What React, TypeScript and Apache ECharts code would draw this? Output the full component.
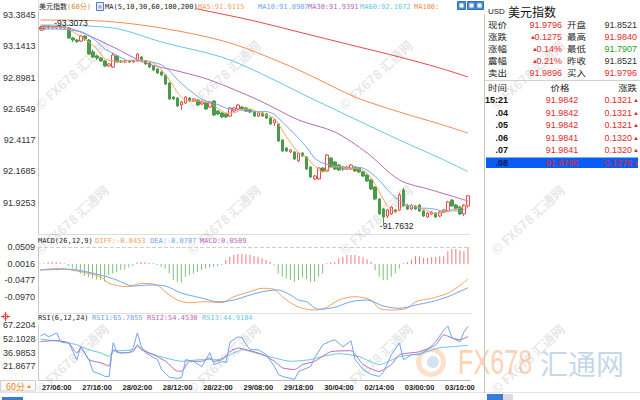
import React, { useEffect, useRef } from "react";
import * as echarts from "echarts";

// ---------- DATA ----------
const opens = [93.291, 93.276, 93.299, 93.283, 93.283, 93.299, 93.283, 93.283, 93.206, 93.190,
  93.182, 93.221, 93.190, 93.097, 93.066, 93.050, 93.027, 92.988, 92.980, 93.066,
  93.027, 93.019, 93.027, 93.019, 93.027, 93.058, 93.027, 93.011, 92.988, 92.965,
  92.941, 92.918, 92.856, 92.747, 92.739, 92.685, 92.700, 92.739, 92.716, 92.724,
  92.693, 92.700, 92.669, 92.716, 92.638, 92.623, 92.615, 92.599, 92.638, 92.654,
  92.669, 92.662, 92.646, 92.630, 92.599, 92.623, 92.615, 92.584, 92.545, 92.537,
  92.413, 92.351, 92.320, 92.320, 92.250, 92.312, 92.281, 92.203, 92.110, 92.110,
  92.195, 92.172, 92.273, 92.242, 92.218, 92.203, 92.187, 92.187, 92.203, 92.195,
  92.164, 92.141, 92.102, 92.047, 91.954, 91.876, 91.822, 91.838, 91.869, 91.869,
  92.024, 91.907, 91.876, 91.900, 91.907, 91.861, 91.814, 91.838, 91.845, 91.822,
  91.853, 91.861, 91.946, 91.907, 91.892, 91.838, 91.900];
const closes = [93.276, 93.299, 93.283, 93.291, 93.299, 93.283, 93.299, 93.206, 93.190, 93.179,
  93.221, 93.198, 93.081, 93.058, 93.050, 93.027, 92.988, 93.004, 93.074, 93.019,
  93.019, 93.027, 93.019, 93.027, 93.081, 93.027, 93.004, 92.980, 92.957, 92.934,
  92.918, 92.848, 92.732, 92.732, 92.677, 92.708, 92.747, 92.716, 92.732, 92.685,
  92.708, 92.654, 92.708, 92.607, 92.615, 92.592, 92.592, 92.662, 92.662, 92.685,
  92.654, 92.638, 92.630, 92.599, 92.623, 92.599, 92.584, 92.537, 92.568, 92.405,
  92.327, 92.327, 92.335, 92.265, 92.312, 92.288, 92.187, 92.125, 92.133, 92.195,
  92.172, 92.296, 92.203, 92.187, 92.180, 92.187, 92.203, 92.218, 92.172, 92.164,
  92.133, 92.094, 92.032, 91.954, 91.838, 91.814, 91.869, 91.892, 91.853, 91.985,
  91.900, 91.876, 91.907, 91.876, 91.861, 91.822, 91.845, 91.853, 91.814, 91.853,
  91.869, 91.931, 91.900, 91.876, 91.838, 91.907, 91.9796];
const lows = [93.268, 93.268, 93.276, 93.276, 93.276, 93.276, 93.276, 93.198, 93.175, 93.167,
  93.175, 93.182, 93.074, 93.050, 93.035, 93.019, 92.980, 92.980, 92.973, 93.011,
  93.011, 93.011, 93.011, 93.015, 93.019, 93.019, 92.996, 92.973, 92.949, 92.926,
  92.910, 92.840, 92.724, 92.724, 92.669, 92.646, 92.693, 92.708, 92.708, 92.677,
  92.685, 92.646, 92.662, 92.599, 92.607, 92.584, 92.584, 92.592, 92.630, 92.646,
  92.646, 92.630, 92.623, 92.592, 92.592, 92.592, 92.576, 92.529, 92.522, 92.397,
  92.320, 92.320, 92.312, 92.257, 92.242, 92.281, 92.180, 92.117, 92.102, 92.102,
  92.164, 92.164, 92.195, 92.180, 92.172, 92.172, 92.180, 92.180, 92.164, 92.156,
  92.125, 92.086, 92.024, 91.946, 91.830, 91.7632, 91.806, 91.830, 91.845, 91.861,
  91.892, 91.869, 91.869, 91.869, 91.853, 91.814, 91.806, 91.830, 91.806, 91.814,
  91.845, 91.853, 91.892, 91.869, 91.830, 91.822, 91.892];
const highs = [93.299, 93.303, 93.303, 93.299, 93.3073, 93.303, 93.303, 93.291, 93.214, 93.198,
  93.229, 93.229, 93.198, 93.112, 93.074, 93.058, 93.035, 93.011, 93.089, 93.074,
  93.035, 93.035, 93.035, 93.035, 93.089, 93.066, 93.035, 93.019, 92.996, 92.973,
  92.949, 92.926, 92.864, 92.755, 92.747, 92.716, 92.755, 92.747, 92.739, 92.732,
  92.716, 92.708, 92.716, 92.724, 92.646, 92.630, 92.623, 92.669, 92.669, 92.693,
  92.677, 92.669, 92.654, 92.638, 92.630, 92.630, 92.623, 92.592, 92.576, 92.545,
  92.421, 92.358, 92.343, 92.327, 92.320, 92.320, 92.288, 92.211, 92.141, 92.203,
  92.203, 92.304, 92.281, 92.250, 92.226, 92.211, 92.211, 92.226, 92.211, 92.203,
  92.172, 92.148, 92.110, 92.055, 91.962, 91.884, 91.876, 91.900, 91.876, 92.001,
  92.040, 91.915, 91.915, 91.907, 91.915, 91.869, 91.853, 91.861, 91.853, 91.861,
  91.876, 91.939, 91.954, 91.915, 91.900, 91.915, 91.984];

const ma5 = [[0,93.2873],[2,93.2873],[4,93.2881],[6,93.2912],[8,93.2539],[10,93.2189],[12,93.1738],[14,93.1217],[16,93.0409],[18,93.0284],[20,93.0207],[22,93.0316],[24,93.0347],[26,93.0316],[28,93.0098],[30,92.9585],[32,92.8776],[34,92.7812],[36,92.7190],[38,92.7159],[40,92.7175],[42,92.6973],[44,92.6584],[46,92.6226],[48,92.6242],[50,92.6506],[52,92.6537],[54,92.6289],[56,92.6071],[58,92.5822],[60,92.4843],[62,92.3925],[64,92.3132],[66,92.2775],[68,92.2091],[70,92.1624],[72,92.1997],[74,92.2075],[76,92.1920],[78,92.1920],[80,92.1780],[82,92.1189],[84,92.0101],[86,91.9012],[88,91.8530],[90,91.8997],[92,91.9043],[94,91.8841],[96,91.8623],[98,91.8390],[100,91.8468],[102,91.8732],[104,91.8826],[106,91.9115]];
const ma10 = [[0,93.2757],[2,93.2757],[4,93.2757],[6,93.2718],[8,93.2640],[10,93.2551],[12,93.2247],[14,93.1773],[16,93.1190],[18,93.0879],[20,93.0518],[22,93.0284],[24,93.0284],[26,93.0300],[28,93.0160],[30,92.9973],[32,92.9507],[34,92.8807],[36,92.8232],[38,92.7742],[40,92.7284],[42,92.7066],[44,92.6879],[46,92.6607],[48,92.6483],[50,92.6429],[52,92.6335],[54,92.6335],[56,92.6335],[58,92.6118],[60,92.5511],[62,92.4905],[64,92.4260],[66,92.3552],[68,92.2705],[70,92.2339],[72,92.2176],[74,92.1966],[76,92.1881],[78,92.2013],[80,92.1943],[82,92.1570],[84,92.0995],[86,92.0287],[88,91.9642],[90,91.9230],[92,91.8888],[94,91.8833],[96,91.8818],[98,91.8740],[100,91.8577],[102,91.8623],[104,91.8600],[106,91.8907]];
const ma30 = [[0,93.2990],[7,93.2834],[18,93.1357],[26,93.0114],[35,92.9414],[42,92.8792],[54,92.7237],[64,92.5682],[73,92.4749],[81,92.3117],[89,92.1018],[97,92.0240],[106,91.9391]];
const ma60 = [[0,93.3068],[18,93.2834],[30,93.1746],[47,93.0347],[68,92.7237],[89,92.4127],[99,92.2728],[106,92.1672]];
const ma100 = [[0,93.3456],[15,93.3378],[30,93.2834],[47,93.1668],[64,92.9569],[78,92.7470],[89,92.6304],[99,92.5371],[106,92.4671]];
const ma200 = [[25,93.545],[31,93.4933],[39,93.4311],[52,93.3456],[68,93.2212],[79,93.1357],[89,93.0580],[99,92.9725],[106,92.9025]];

const macdHist = [0.001, 0.002, 0.005, 0.007, 0.006, 0.004, 0.002,
  -0.006, -0.013, -0.018, -0.028, -0.035, -0.038, -0.043, -0.046, -0.048, -0.053, -0.033, -0.028, -0.023, -0.018, -0.016, -0.010,
  -0.006,
  0.005, 0.007, 0.006, 0.004, 0.002,
  -0.003,
  -0.008, -0.013, -0.028, -0.048, -0.053, -0.056, -0.038, -0.033, -0.028, -0.023, -0.018, -0.013, -0.010, -0.008, -0.006, -0.003,
  0.012, 0.022, 0.027, 0.030, 0.030, 0.029, 0.027, 0.024, 0.022, 0.017, 0.012, 0.007,
  -0.004,
  -0.028, -0.038, -0.043, -0.048, -0.053, -0.048, -0.040, -0.045, -0.053, -0.053, -0.038, -0.028,
  0.002, 0.005, 0.007, 0.017, 0.022, 0.027, 0.027, 0.027, 0.024, 0.020, 0.014, 0.007,
  -0.018, -0.038, -0.048, -0.048, -0.038, -0.028, -0.013,
  0.002, 0.005, 0.013, 0.023, 0.023, 0.018, 0.018, 0.021, 0.021, 0.023, 0.023, 0.038, 0.045, 0.045, 0.041, 0.038, 0.0509];
const diff = [[0,-0.0178],[5,-0.0127],[7,-0.0157],[15,-0.0378],[17,-0.0576],[22,-0.0677],[25,-0.0576],[29,-0.0626],[31,-0.0827],[34,-0.1075],[37,-0.1155],[41,-0.1125],[45,-0.1155],[48,-0.0976],[52,-0.0827],[55,-0.0725],[58,-0.0755],[60,-0.0976],[63,-0.1224],[65,-0.1323],[68,-0.1373],[71,-0.1293],[74,-0.1075],[78,-0.0976],[82,-0.1075],[84,-0.1323],[87,-0.1373],[91,-0.1323],[93,-0.1125],[97,-0.1024],[101,-0.0874],[103,-0.0725],[106,-0.0453]];
const dea = [[0,-0.0178],[7,-0.0157],[15,-0.0328],[19,-0.0477],[23,-0.0656],[27,-0.0626],[31,-0.0656],[35,-0.0866],[40,-0.1015],[44,-0.1125],[48,-0.1075],[52,-0.0925],[56,-0.0806],[59,-0.0776],[62,-0.0925],[64,-0.1075],[66,-0.1125],[69,-0.1353],[73,-0.1293],[77,-0.1125],[81,-0.1075],[85,-0.1254],[89,-0.1323],[93,-0.1224],[97,-0.1125],[101,-0.0976],[106,-0.0707]];

const rsi1 = [[0,55.26],[1,57.43],[2,54.17],[4,58.52],[5,48.73],[6,47.64],[7,47.64],[9,29.15],[10,43.29],[12,29.15],[13,16.10],[15,12.84],[16,10.66],[17,10.66],[18,47.64],[19,36.77],[22,36.77],[23,42.21],[24,58.52],[25,43.29],[26,36.77],[29,29.15],[30,18.28],[32,9.58],[34,8.49],[35,9.58],[36,29.15],[38,26.98],[40,21.54],[42,36.77],[43,23.72],[45,26.98],[46,25.89],[47,48.73],[49,54.17],[50,53.08],[51,45.47],[52,40.03],[54,40.03],[56,34.59],[58,21.54],[59,12.84],[60,10.66],[63,7.40],[64,16.10],[67,21.54],[68,31.33],[70,45.47],[72,49.82],[73,50.91],[75,43.29],[77,49.82],[78,29.15],[80,18.28],[82,12.84],[84,10.66],[85,15.02],[87,34.59],[89,47.64],[90,29.15],[92,34.59],[94,34.59],[96,40.03],[98,48.73],[100,61.78],[101,66.13],[102,53.08],[104,48.73],[105,59.61],[106,65.79]];
const rsi2 = [[0,49.06],[4,50.14],[7,47.32],[9,36.44],[10,42.21],[12,29.15],[15,25.56],[16,23.72],[17,21.87],[18,40.03],[20,36.44],[23,38.18],[24,45.47],[25,40.03],[28,34.59],[31,27.31],[34,16.43],[35,16.43],[37,27.31],[40,27.31],[42,31.00],[43,27.31],[45,29.15],[47,38.18],[49,41.88],[51,40.03],[54,36.44],[56,32.74],[58,27.31],[60,20.13],[63,18.28],[65,23.72],[68,27.31],[72,37.85],[77,38.94],[80,23.72],[84,16.10],[87,23.72],[89,34.59],[94,37.85],[98,45.47],[100,56.34],[102,53.08],[104,50.91],[106,54.45]];
const rsi3 = [[0,51.67],[5,49.06],[9,45.47],[12,40.03],[15,36.44],[17,32.74],[18,38.18],[23,40.03],[24,43.62],[27,36.44],[31,31.00],[35,27.31],[40,29.15],[44,29.15],[47,34.59],[50,40.03],[54,35.68],[58,31.00],[62,27.31],[67,29.15],[70,32.74],[74,35.68],[79,32.42],[84,23.72],[89,32.42],[94,35.68],[99,42.21],[102,43.29],[106,44.91]];

const priceTicks = [91.9253, 92.1685, 92.4117, 92.6549, 92.8981, 93.1413, 93.3845];
const macdTicks = [-0.0970, -0.0477, 0.0016, 0.0509];
const rsiTicks = [21.8677, 36.9853, 52.1028, 67.2204];
const timeLabels = ["27/06:00", "27/16:00", "28/02:00", "28/12:00", "28/22:00", "29/08:00", "29/18:00", "30/04:00", "02/14:00", "03/00:00", "03/10:00"];
const firstLabelIndex = 4;
const labelStep = 10;

const quoteRows = [
  ["现价", "91.9796", "", "开盘", "91.8521", "dark"],
  ["涨跌", "0.1275", "▲", "最高", "91.9840", "red"],
  ["涨幅", "0.14%", "▲", "最低", "91.7907", "green"],
  ["震幅", "0.21%", "▲", "昨收", "91.8521", "dark"],
  ["卖出", "91.9896", "", "买入", "91.9796", "red"],
];
const trades = [
  ["15:21", "91.9842", "0.1321"],
  [".04", "91.9842", "0.1321"],
  [".05", "91.9842", "0.1321"],
  [".06", "91.9841", "0.1320"],
  [".07", "91.9841", "0.1320"],
  [".08", "91.9796", "0.1275"],
];

// ---------- STYLE ----------
const MONO = "'DejaVu Sans Mono', 'Noto Sans CJK SC', monospace";
const SANS = "'Liberation Sans', Arial, sans-serif";
const CJK = "'Noto Sans CJK SC', sans-serif";
const RED = "#e84d4d";
const GREEN = "#4a9c4a";
const C_MA5 = "#f5a25d";
const C_MA10 = "#6ea6ee";
const C_MA30 = "#b86ab8";
const C_MA60 = "#69c6e3";
const C_MA100 = "#f28a52";
const C_MA200 = "#e84545";
const TXT_RED = "#e02a2a";

function txt(x: number, y: number, text: string, fill: string, size: number, family: string, align = "left", weight = "normal", z = 101) {
  return {
    type: "text", x, y, z, silent: true,
    style: { text, fill, fontSize: size, fontFamily: family, fontWeight: weight, lineHeight: size + 1, align, verticalAlign: "middle", textAlign: align, textVerticalAlign: "middle" },
  };
}
// CJK label: slightly smaller font, widened so that glyph width matches the reference
function cjk(x: number, y: number, text: string, align = "left") {
  const el: any = txt(0, 0, text, "#222", 8.2, CJK, align);
  el.x = x; el.y = y; el.scaleX = 1.15;
  return el;
}
function hline(x1: number, y: number, x2: number, stroke = "#d0d0d0", z = 101) {
  return { type: "line", z, silent: true, shape: { x1, y1: y, x2, y2: y }, style: { stroke, lineWidth: 1 } };
}

function buildGraphic() {
  const g: any[] = [];
  // watermarks
  const wmX = [37, 189, 341, 493];
  const wmY = [107, 252, 391];
  wmX.forEach((x) => wmY.forEach((y) => {
    g.push({ type: "text", x, y, rotation: 0.75, z: 1, silent: true,
      style: { text: "© FX678 汇通网", fill: "rgba(150,150,150,0.24)", fontSize: 13, lineHeight: 14, fontWeight: "bold", fontFamily: CJK, align: "left", verticalAlign: "middle", textAlign: "left", textVerticalAlign: "middle" } });
  }));
  // big logo
  g.push({ type: "ring", z: 1, silent: true, shape: { cx: 431, cy: 362, r: 15, r0: 10 }, style: { fill: "rgba(246,165,100,0.35)" } });
  g.push({ type: "circle", z: 1, silent: true, shape: { cx: 433, cy: 362, r: 6 }, style: { fill: "rgba(120,160,210,0.3)" } });
  g.push({ type: "text", x: 458, y: 362, scaleX: 0.7, z: 1, silent: true,
    style: { text: "FX678", fill: "rgba(247,165,105,0.5)", fontSize: 36, lineHeight: 37, fontFamily: SANS, align: "left", verticalAlign: "middle", textAlign: "left", textVerticalAlign: "middle" } });
  g.push({ type: "text", x: 540, y: 363, z: 1, silent: true,
    style: { text: "汇通网", fill: "rgba(140,175,215,0.5)", fontSize: 28, lineHeight: 29, fontFamily: CJK, align: "left", verticalAlign: "middle", textAlign: "left", textVerticalAlign: "middle" } });

  // legend background to hide lines under it
  g.push({ type: "rect", z: 100, silent: true, shape: { x: 38.5, y: 0, width: 158, height: 12 }, style: { fill: "#fff" } });
  // main legend
  g.push(txt(39, 7, "美元指数", "#222", 7, MONO));
  g.push(txt(67, 7, "(60分)", "#d0893e", 7, MONO));
  g.push({ type: "rect", z: 101, silent: true, shape: { x: 96.5, y: 2.5, width: 7, height: 8 }, style: { fill: "#e6eefc", stroke: "#4a7fd0", lineWidth: 1 } });
  g.push(txt(100, 6.5, "M", "#c04080", 5, MONO, "center"));
  g.push(txt(105, 7, "MA(5,10,30,60,100,200)", "#222", 7, MONO));
  g.push(txt(198, 7, "MA5:91.9115", C_MA5, 7, MONO));
  g.push(txt(258, 7, "MA10:91.8907", C_MA10, 7, MONO));
  g.push(txt(308, 7, "MA30:91.9391", C_MA30, 7, MONO));
  g.push(txt(360, 7, "MA60:92.1672", C_MA60, 7, MONO));
  g.push(txt(414, 7, "MA100:", C_MA100, 7, MONO));
  [457.5, 467.5].forEach((x) => {
    g.push({ type: "rect", z: 101, silent: true, shape: { x, y: 1.5, width: 8, height: 8 }, style: { fill: "#4b8ee0", stroke: "#2f6fc0", lineWidth: 1 } });
    g.push({ type: "rect", z: 101, silent: true, shape: { x: x + 2, y: 3.5, width: 4, height: 4 }, style: { fill: "#fff" } });
  });
  g.push(txt(39, 28, "G", "#e06060", 7, SANS, "left", "bold"));

  // MACD legend
  g.push(txt(38, 241, "MACD(26,12,9)", "#222", 7, MONO));
  g.push(txt(95, 241, "DIFF:-0.0453", C_MA5, 7, MONO));
  g.push(txt(150, 241, "DEA:-0.0707", C_MA10, 7, MONO));
  g.push(txt(200, 241, "MACD:0.0509", C_MA30, 7, MONO));
  // RSI legend
  g.push({ type: "circle", z: 101, silent: true, shape: { cx: 5.5, cy: 316.5, r: 2.5 }, style: { fill: "none", stroke: "#e04040", lineWidth: 1 } });
  g.push(hline(1, 316.5, 10, "#e04040"));
  g.push({ type: "line", z: 101, silent: true, shape: { x1: 5.5, y1: 312, x2: 5.5, y2: 321 }, style: { stroke: "#e04040", lineWidth: 1 } });
  g.push(txt(38, 318, "RSI(6,12,24)", "#222", 7, MONO));
  g.push(txt(92, 318, "RSI1:65.7855", C_MA10, 7, MONO));
  g.push(txt(147, 318, "RSI2:54.4530", C_MA30, 7, MONO));
  g.push(txt(202, 318, "RSI3:44.9104", C_MA60, 7, MONO));

  // separator between MACD and RSI panels
  g.push(hline(38, 313.5, 472, "#e0e0e0"));

  // bottom-left period box
  g.push({ type: "rect", z: 101, silent: true, shape: { x: 0.5, y: 380.5, width: 35, height: 10.5 }, style: { fill: "#fafafa", stroke: "#cfcfcf", lineWidth: 1 } });
  g.push(txt(6, 386, "60分", "#f08a24", 9, CJK));
  g.push(txt(26, 386, "▲", "#f08a24", 6, SANS));
  g.push(hline(0, 392.5, 640, "#e4e4e4"));
  g.push({ type: "rect", z: 101, silent: true, shape: { x: 2, y: 397, width: 21, height: 3 }, style: { fill: "#3a7ad8" } });
  g.push({ type: "rect", z: 101, silent: true, shape: { x: 487, y: 394, width: 16, height: 6 }, style: { fill: "#3a7ad8" } });
  g.push({ type: "rect", z: 101, silent: true, shape: { x: 503, y: 394, width: 10, height: 6 }, style: { fill: "#dcdcdc" } });

  // right panel
  g.push({ type: "rect", z: 101, silent: true, shape: { x: 475.5, y: 1.5, width: 8, height: 8 }, style: { fill: "#4b8ee0", stroke: "#2f6fc0", lineWidth: 1 } });
  g.push({ type: "rect", z: 101, silent: true, shape: { x: 477.5, y: 3.5, width: 4, height: 4 }, style: { fill: "#fff" } });
  g.push({ type: "line", z: 101, silent: true, shape: { x1: 484.5, y1: 14, x2: 484.5, y2: 393 }, style: { stroke: "#c8c8c8", lineWidth: 1 } });
  g.push(txt(488, 11, "USD", "#222", 8, SANS));
  g.push(txt(508, 11, "美元指数", "#111", 12, CJK));
  const rowY = [25, 37, 49, 61, 73];
  const valColor: any = { dark: "#333", red: TXT_RED, green: "#1f9a2a" };
  quoteRows.forEach((r, k) => {
    const y = rowY[k];
    g.push(cjk(488, y, r[0]));
    g.push(txt(562, y, r[1], TXT_RED, 9, SANS, "right"));
    if (r[2]) g.push(txt(r[1].length === 6 ? 530 : 532, y, r[2], TXT_RED, 6, SANS, "left"));
    g.push(cjk(567, y, r[3]));
    g.push(txt(637, y, r[4], valColor[r[5]], 9, SANS, "right"));
  });
  g.push(hline(485, 80.5, 640, "#d0d0d0"));
  g.push(cjk(488, 88, "时间"));
  g.push(cjk(560, 88, "价格", "center"));
  g.push(cjk(637, 88, "涨跌", "right"));
  g.push({ type: "rect", z: 100, silent: true, shape: { x: 486, y: 157.5, width: 152, height: 10.5 }, style: { fill: "#0a5cf5" } });
  trades.forEach((t, k) => {
    const y = 100 + k * 12.6;
    const last = k === trades.length - 1;
    g.push(txt(508, y, t[0], last ? "#0a1a50" : "#111", 9, SANS, "right", "bold"));
    g.push(txt(562, y, t[1], TXT_RED, 9, SANS, "center"));
    g.push(txt(632, y, t[2], TXT_RED, 9, SANS, "right"));
    g.push(txt(633, y, "▲", TXT_RED, 6, SANS, "left"));
  });
  return g;
}

const categories = opens.map((_, i) => String(i));
const candleData = opens.map((o, i) => [o, closes[i], lows[i], highs[i]]);

function lineSeries(name: string, data: any, color: string, xi: number, smooth: number | boolean = false) {
  return {
    name, type: "line", data, xAxisIndex: xi, yAxisIndex: xi, showSymbol: false, symbol: "none",
    connectNulls: true, smooth, lineStyle: { width: 1, color }, itemStyle: { color }, silent: true,
  };
}

const axisLabelBase = { color: "#333", fontSize: 9, fontFamily: SANS, margin: 3 };

const option: any = {
  animation: false,
  backgroundColor: "#fff",
  grid: [
    { left: 38, width: 432, top: 0, height: 234 },
    { left: 38, width: 432, top: 247, height: 66 },
    { left: 38, width: 432, top: 325, height: 55 },
  ],
  xAxis: [0, 1, 2].map((k) => ({
    type: "category", gridIndex: k, data: categories, boundaryGap: true,
    axisLine: { show: true, onZero: false, lineStyle: { color: k === 2 ? "#bbb" : "#dedede" } },
    axisTick: { show: false },
    splitLine: { show: false },
    axisLabel: k === 2 ? {
      show: true, fontSize: 7.5, fontWeight: "bold", color: "#222", fontFamily: SANS, margin: 3,
      interval: (index: number) => index >= firstLabelIndex && (index - firstLabelIndex) % labelStep === 0,
      formatter: (_v: string, index: number) => timeLabels[(index - firstLabelIndex) / labelStep] || "",
    } : { show: false },
  })),
  yAxis: [
    { type: "value", gridIndex: 0, min: 91.6821, max: 93.5011, scale: true,
      axisLine: { show: true, lineStyle: { color: "#c8c8c8" } }, axisTick: { show: false }, splitLine: { show: false },
      axisLabel: { ...axisLabelBase, customValues: priceTicks, formatter: (v: number) => v.toFixed(4) } },
    { type: "value", gridIndex: 1, min: -0.1463, max: 0.0509,
      axisLine: { show: true, lineStyle: { color: "#c8c8c8" } }, axisTick: { show: false }, splitLine: { show: false },
      axisLabel: { ...axisLabelBase, customValues: macdTicks, formatter: (v: number) => v.toFixed(4) } },
    { type: "value", gridIndex: 2, min: 6.7501, max: 67.2204,
      axisLine: { show: true, lineStyle: { color: "#c8c8c8" } }, axisTick: { show: false }, splitLine: { show: false },
      axisLabel: { ...axisLabelBase, customValues: rsiTicks, formatter: (v: number) => v.toFixed(4) } },
  ],
  series: [
    {
      name: "K", type: "candlestick", data: candleData, xAxisIndex: 0, yAxisIndex: 0, barWidth: 3, silent: true,
      itemStyle: { color: "#ffffff", color0: GREEN, borderColor: RED, borderColor0: GREEN, borderWidth: 1 },
      markPoint: {
        symbol: "circle", symbolSize: 1, silent: true, itemStyle: { color: "rgba(0,0,0,0)" },
        label: { show: true, color: "#222", fontSize: 8.5, fontFamily: SANS, align: "left", verticalAlign: "middle" },
        data: [
          { type: "max", valueDim: "highest", label: { position: [-2, -1], formatter: (p: any) => "-" + Number(p.value).toFixed(4) } },
          { type: "min", valueDim: "lowest", label: { position: [-3, 3], formatter: (p: any) => "-" + Number(p.value).toFixed(4) } },
        ],
      },
    },
    lineSeries("MA200", ma200, C_MA200, 0, 0.3),
    lineSeries("MA100", ma100, C_MA100, 0, 0.3),
    lineSeries("MA60", ma60, C_MA60, 0, 0.3),
    lineSeries("MA30", ma30, C_MA30, 0, 0.3),
    lineSeries("MA10", ma10, C_MA10, 0, 0.2),
    lineSeries("MA5", ma5, C_MA5, 0, 0.2),
    {
      name: "MACD", type: "bar", data: macdHist, xAxisIndex: 1, yAxisIndex: 1, barWidth: 1, silent: true,
      itemStyle: { color: (p: any) => (p.value >= 0 ? "#ee7b7b" : "#7fc07f") },
      markLine: {
        silent: true, symbol: ["none", "none"], label: { show: false },
        lineStyle: { type: "dashed", color: "#cfcfcf", width: 1 },
        data: [{ yAxis: 0.0509 }],
      },
    },
    lineSeries("DIFF", diff, C_MA5, 1, 0.3),
    lineSeries("DEA", dea, C_MA10, 1, 0.3),
    lineSeries("RSI3", rsi3, C_MA60, 2, 0.2),
    lineSeries("RSI2", rsi2, C_MA30, 2, 0.2),
    lineSeries("RSI1", rsi1, C_MA10, 2, false),
  ],
  graphic: { elements: buildGraphic() },
};

export default function App() {
  const ref = useRef<HTMLDivElement>(null);
  useEffect(() => {
    if (!ref.current) return;
    const chart = echarts.init(ref.current, null, { renderer: "svg" });
    chart.setOption(option);
    return () => chart.dispose();
  }, []);
  return <div ref={ref} style={{ position: "fixed", left: 0, top: 0, width: 640, height: 400, background: "#fff" }} />;
}
